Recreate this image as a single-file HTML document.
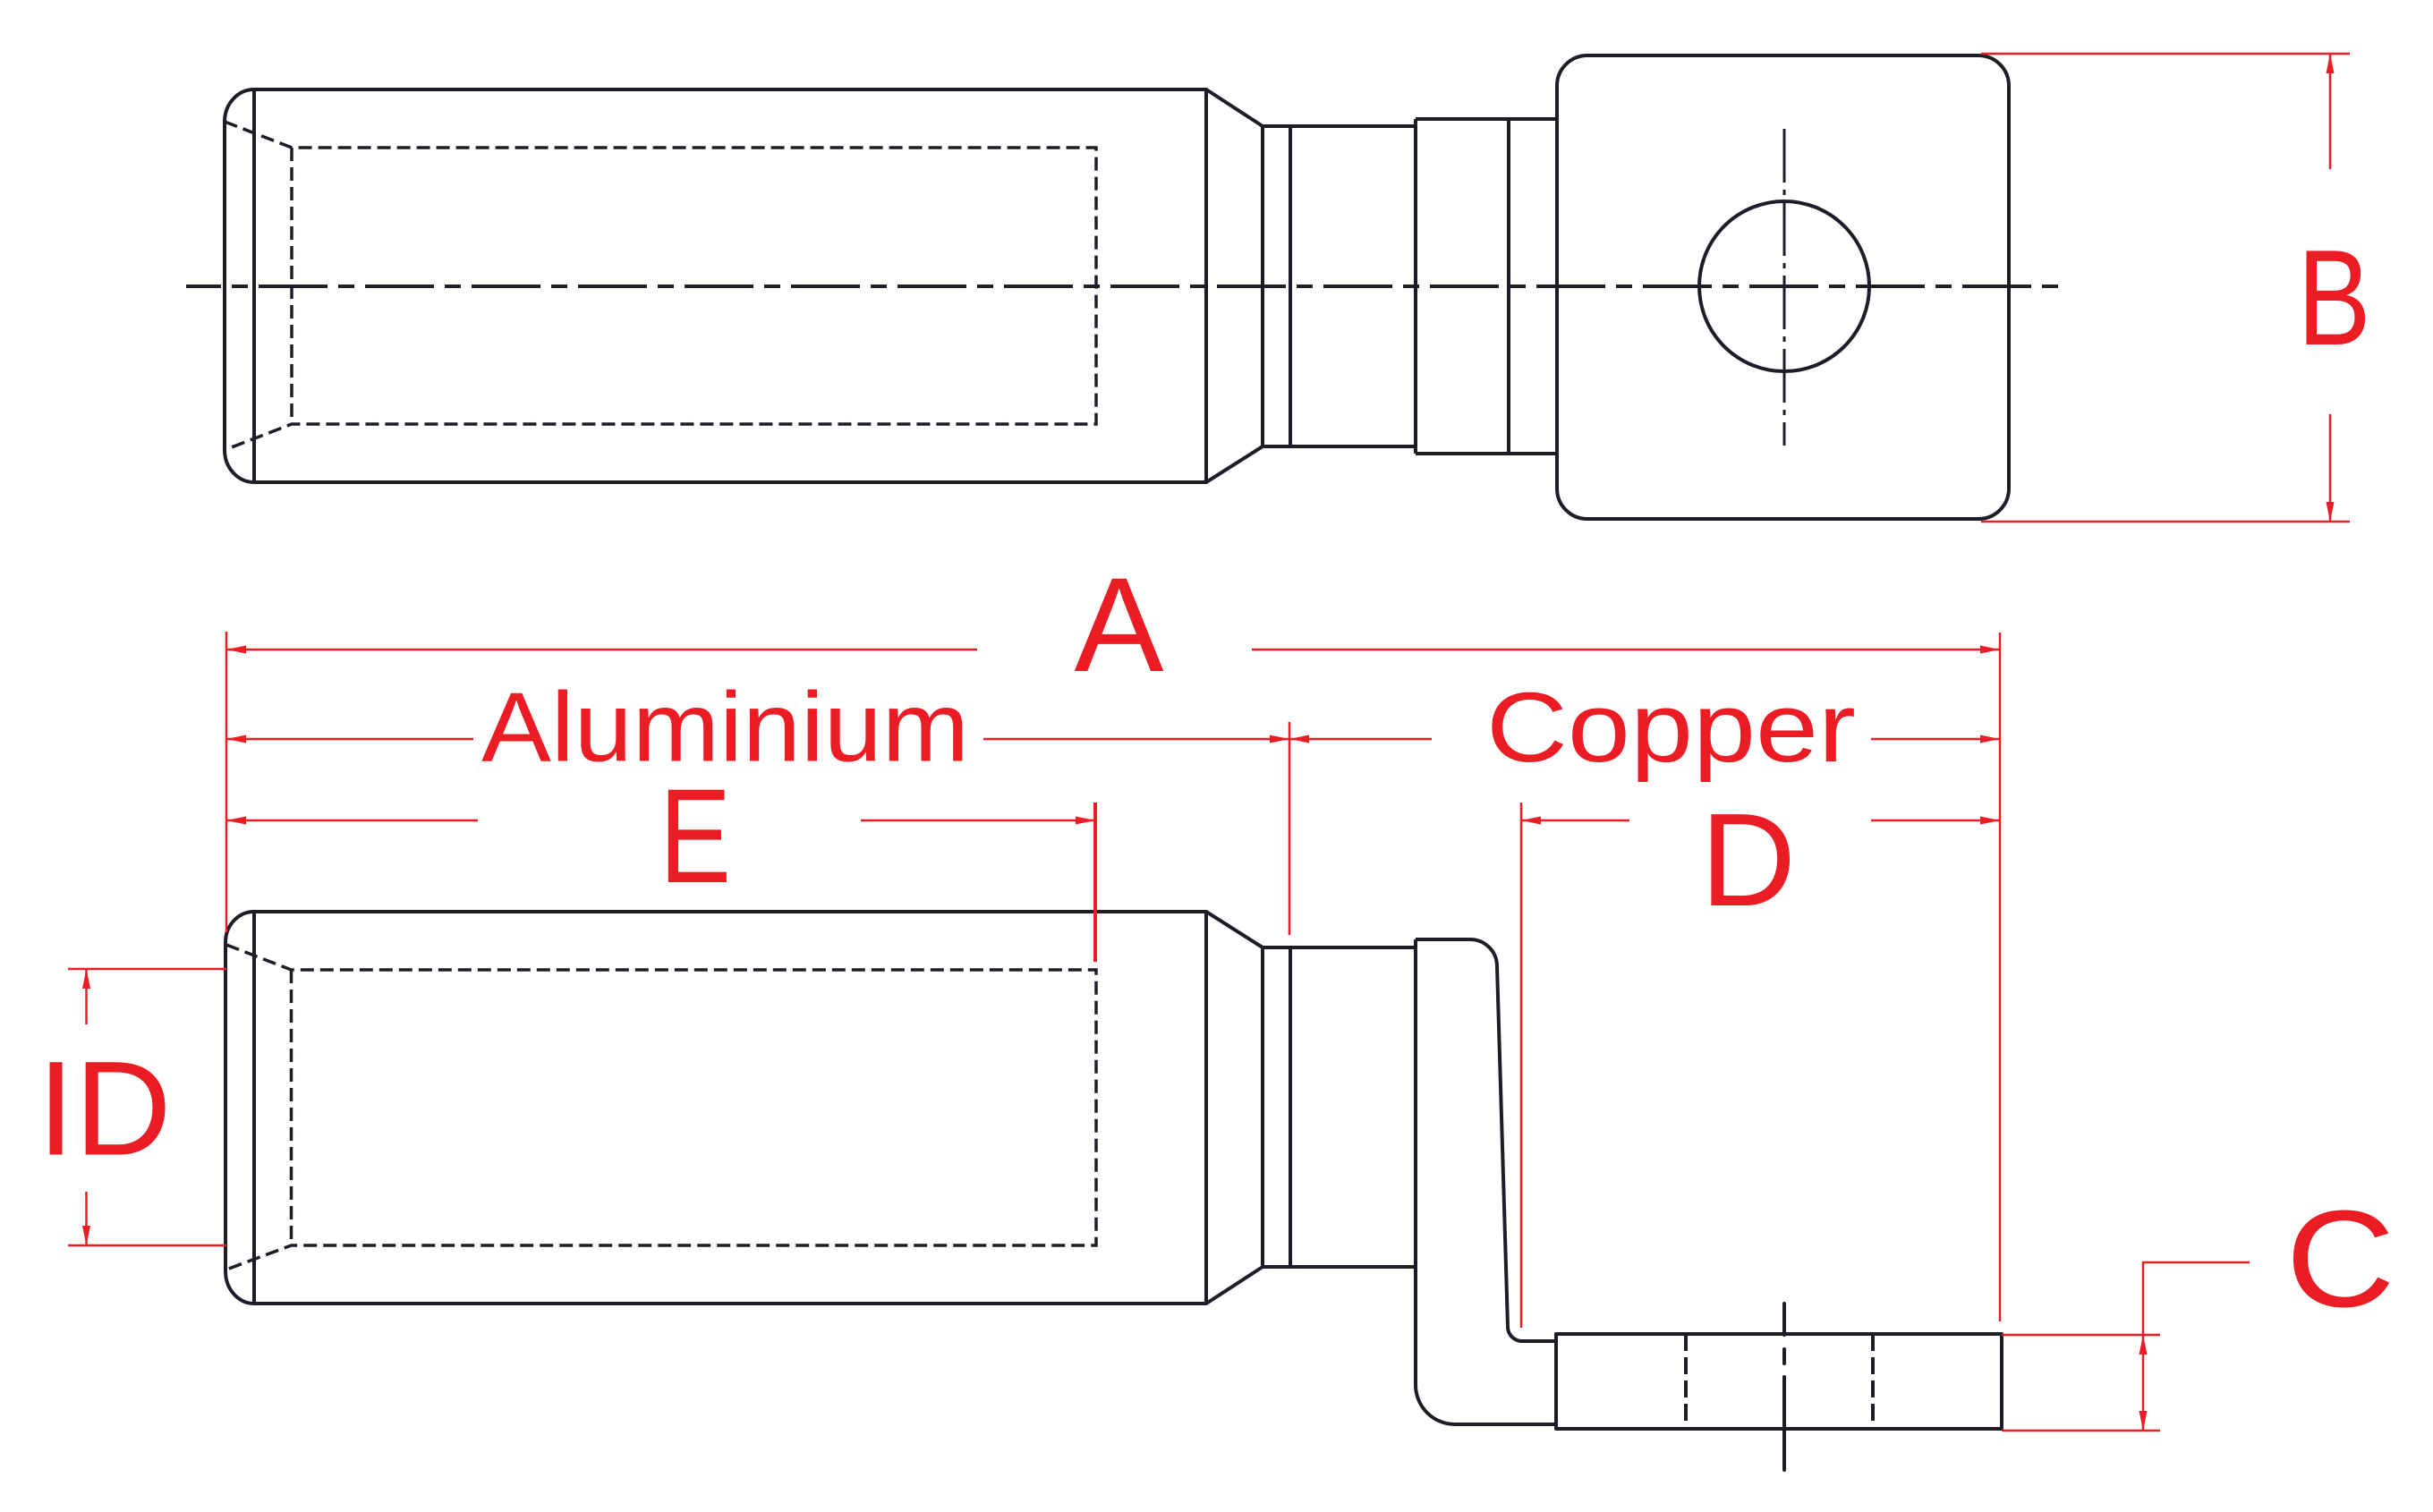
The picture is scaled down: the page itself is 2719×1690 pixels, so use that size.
<!DOCTYPE html>
<html><head><meta charset="utf-8"><style>
html,body{margin:0;padding:0;background:#fff;}
svg{display:block;}
</style></head><body>
<svg width="2719" height="1690" viewBox="0 0 2719 1690" xmlns="http://www.w3.org/2000/svg">
<rect width="2719" height="1690" fill="#fff"/>

<!-- ===== TOP VIEW ===== -->
<g fill="none" stroke="#1e1d27" stroke-width="4" stroke-linejoin="round" stroke-linecap="butt">
  <path d="M284,100 H1348 V539 H284"/>
  <path d="M284,100 A33,36 0 0 0 251,136 V503 A33,36 0 0 0 284,539"/>
  <line x1="284" y1="100" x2="284" y2="539"/>
  <path d="M1348,100 L1411,141 V499 L1348,539"/>
  <path d="M1411,141 H1582 M1411,499 H1582"/>
  <line x1="1442" y1="141" x2="1442" y2="499"/>
  <path d="M1582,133 H1740 M1582,507 H1740 M1582,133 V507"/>
  <line x1="1686" y1="133" x2="1686" y2="507"/>
  <rect x="1740" y="62" width="505" height="518" rx="34" ry="34"/>
  <circle cx="1994" cy="320" r="95"/>
</g>
<!-- hidden lines top -->
<g fill="none" stroke="#1e1d27" stroke-width="3.5" stroke-dasharray="15 7">
  <path d="M251,136 L326,165 H1225 V474 H326 L251,503"/>
  <line x1="326" y1="165" x2="326" y2="474"/>
</g>
<!-- centerlines top -->
<g fill="none" stroke="#1e1d27" stroke-width="4">
  <line x1="208" y1="320" x2="2302" y2="320" stroke-dasharray="77 12 18 12" stroke-dashoffset="38"/>
  <line x1="1994" y1="144" x2="1994" y2="498" stroke-width="3" stroke-dasharray="60 8 6 8"/>
</g>

<!-- ===== BOTTOM VIEW ===== -->
<g fill="none" stroke="#1e1d27" stroke-width="4" stroke-linejoin="round" stroke-linecap="butt">
  <path d="M284,1019 H1348 V1457 H284"/>
  <path d="M284,1019 A32,34 0 0 0 252,1053 V1421 A32,36 0 0 0 284,1457"/>
  <line x1="284" y1="1019" x2="284" y2="1457"/>
  <path d="M1348,1019 L1411,1059 V1416 L1348,1457"/>
  <path d="M1411,1059 H1582 M1411,1416 H1582"/>
  <line x1="1442" y1="1059" x2="1442" y2="1416"/>
  <path d="M1582,1050 V1548 A44,44 0 0 0 1626,1592 H1739"/>
  <path d="M1582,1050 H1643 A30,30 0 0 1 1673,1080 L1685,1483 A16,16 0 0 0 1701,1499 H1739"/>
  <rect x="1739" y="1491" width="498" height="106"/>
</g>
<g fill="none" stroke="#1e1d27" stroke-width="3.5" stroke-dasharray="15 7">
  <path d="M253,1056 L325.5,1084 H1225 V1392 H325.5 L253,1419"/>
  <line x1="325.5" y1="1084" x2="325.5" y2="1392"/>
</g>
<g fill="none" stroke="#1e1d27" stroke-width="4" stroke-dasharray="19 7">
  <line x1="1884" y1="1491" x2="1884" y2="1597"/>
  <line x1="2093" y1="1491" x2="2093" y2="1597"/>
</g>
<g fill="none" stroke="#1e1d27" stroke-width="4" stroke-linecap="round">
  <line x1="1994" y1="1457" x2="1994" y2="1492"/>
  <line x1="1994" y1="1508" x2="1994" y2="1524"/>
  <line x1="1994" y1="1539" x2="1994" y2="1643"/>
</g>

<!-- ===== RED DIMENSIONS ===== -->
<g fill="none" stroke="#ec1c24" stroke-width="2.5">
  <line x1="253" y1="706" x2="253" y2="1042"/>
  <line x1="253" y1="726" x2="1092" y2="726"/>
  <line x1="1399" y1="726" x2="2235" y2="726"/>
  <line x1="2235" y1="707" x2="2235" y2="1477"/>
  <line x1="253" y1="826" x2="529" y2="826"/>
  <line x1="1099" y1="826" x2="1441" y2="826"/>
  <line x1="1441" y1="826" x2="1600" y2="826"/>
  <line x1="2091" y1="826" x2="2235" y2="826"/>
  <line x1="1441" y1="807" x2="1441" y2="1045"/>
  <line x1="253" y1="917" x2="534" y2="917"/>
  <line x1="962" y1="917" x2="1224" y2="917"/>
  <line x1="1700" y1="917" x2="1821" y2="917"/>
  <line x1="2091" y1="917" x2="2235" y2="917"/>
  <line x1="1224" y1="897" x2="1224" y2="1075" stroke-width="4"/>
  <line x1="1700" y1="897" x2="1700" y2="1484"/>
  <line x1="76" y1="1083" x2="253" y2="1083"/>
  <line x1="76" y1="1392" x2="253" y2="1392"/>
  <line x1="96.5" y1="1083" x2="96.5" y2="1145"/>
  <line x1="96.5" y1="1332" x2="96.5" y2="1392"/>
  <line x1="2214" y1="60" x2="2626" y2="60"/>
  <line x1="2214" y1="583" x2="2626" y2="583"/>
  <line x1="2604" y1="60" x2="2604" y2="189"/>
  <line x1="2604" y1="463" x2="2604" y2="583"/>
  <line x1="2237" y1="1492" x2="2414" y2="1492"/>
  <line x1="2237" y1="1599" x2="2414" y2="1599"/>
  <path d="M2514,1411 H2395 V1599"/>
</g>
<g fill="#ec1c24" stroke="none">
  <polygon points="253,726 275,721.5 275,730.5"/>
  <polygon points="2235,726 2213,721.5 2213,730.5"/>
  <polygon points="253,826 275,821.5 275,830.5"/>
  <polygon points="1441,826 1419,821.5 1419,830.5"/>
  <polygon points="1441,826 1463,821.5 1463,830.5"/>
  <polygon points="2235,826 2213,821.5 2213,830.5"/>
  <polygon points="253,917 275,912.5 275,921.5"/>
  <polygon points="1224,917 1202,912.5 1202,921.5"/>
  <polygon points="1700,917 1722,912.5 1722,921.5"/>
  <polygon points="2235,917 2213,912.5 2213,921.5"/>
  <polygon points="96.5,1083 92,1105 101,1105"/>
  <polygon points="96.5,1392 92,1370 101,1370"/>
  <polygon points="2604,60 2599.5,82 2608.5,82"/>
  <polygon points="2604,583 2599.5,561 2608.5,561"/>
  <polygon points="2395,1492 2390.5,1514 2399.5,1514"/>
  <polygon points="2395,1599 2390.5,1577 2399.5,1577"/>
</g>

<!-- ===== LABELS ===== -->
<g fill="#ec1c24" font-family="'Liberation Sans', Arial, sans-serif">
  <text x="1250.5" y="750" font-size="150" text-anchor="middle">A</text>
  <text x="538" y="850.5" font-size="110" textLength="545" lengthAdjust="spacingAndGlyphs">Aluminium</text>
  <text x="1661" y="851" font-size="110" textLength="413" lengthAdjust="spacingAndGlyphs">Copper</text>
  <text transform="translate(777,986) scale(0.8,1)" font-size="150" text-anchor="middle">E</text>
  <text x="1953.7" y="1012" font-size="148" text-anchor="middle">D</text>
  <text transform="translate(2608.5,385) scale(0.81,1)" font-size="152" text-anchor="middle">B</text>
  <text transform="translate(2615.5,1460) scale(1.1,1)" font-size="154" text-anchor="middle">C</text>
  <text x="41.7" y="1290.5" font-size="150">ID</text>
</g>
</svg>
</body></html>
